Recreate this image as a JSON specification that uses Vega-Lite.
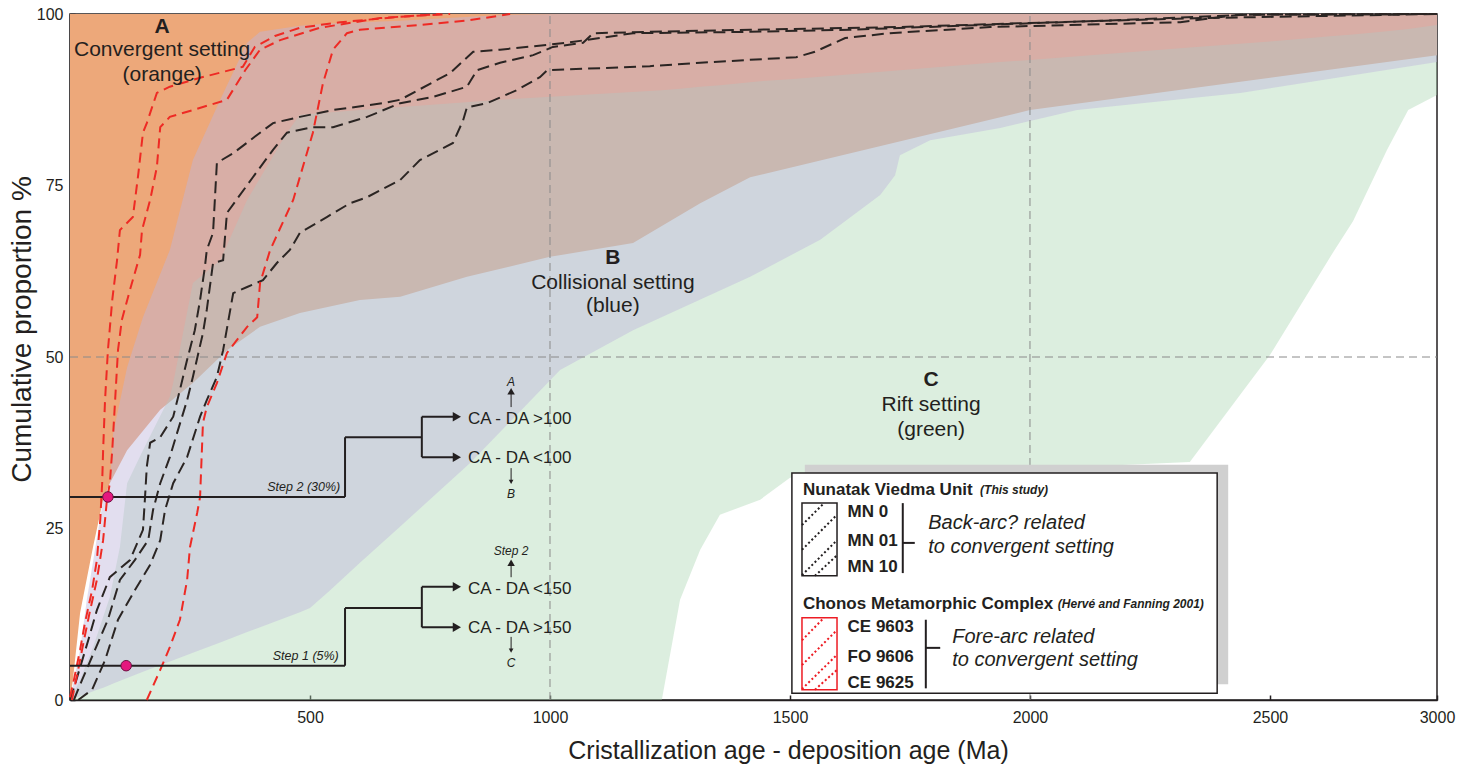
{
"$schema": "https://vega.github.io/schema/vega-lite/v6.json",
"width": 1367, "height": 686,
"autosize": {"type": "none"},
"padding": {"left": 70, "top": 14, "right": 40, "bottom": 71},
"background": "white",
"config": {"font": "Liberation Sans", "view": {"stroke": "#231f20", "strokeWidth": 1.5}},
"datasets": {
"orange": [{"x":0,"y":0},{"x":6,"y":2.9},{"x":21,"y":12.7},{"x":48,"y":22.3},{"x":69,"y":29.2},{"x":83,"y":31.6},{"x":119,"y":36.4},{"x":188,"y":42.3},{"x":256,"y":46.2},{"x":327,"y":51.0},{"x":396,"y":54.4},{"x":479,"y":56.4},{"x":604,"y":58.3},{"x":688,"y":58.8},{"x":827,"y":61.7},{"x":1000,"y":64.6},{"x":1173,"y":66.6},{"x":1313,"y":72.4},{"x":1417,"y":76.2},{"x":2000,"y":86.0},{"x":2848,"y":94.0}],
"blue": [{"x":0,"y":0,"y2":0},{"x":21,"y":0.6,"y2":7.3},{"x":35,"y":0.9,"y2":14.6},{"x":52,"y":1.4,"y2":21.9},{"x":69,"y":1.8,"y2":29.2},{"x":83,"y":2.2,"y2":31.6},{"x":90,"y":2.4,"y2":38.9},{"x":119,"y":3.2,"y2":48.5},{"x":152,"y":4.1,"y2":55.8},{"x":208,"y":5.6,"y2":65.6},{"x":256,"y":6.9,"y2":78.7},{"x":313,"y":8.4,"y2":87.5},{"x":369,"y":9.9,"y2":95.8},{"x":396,"y":10.6,"y2":97.4},{"x":479,"y":12.8,"y2":98.3},{"x":500,"y":13.4,"y2":98.4},{"x":542,"y":16.0,"y2":98.6},{"x":604,"y":20.0,"y2":98.8},{"x":688,"y":25.3,"y2":99.0},{"x":833,"y":34.5,"y2":99.6},{"x":923,"y":41.0,"y2":99.9},{"x":1021,"y":48.1,"y2":100},{"x":1173,"y":53.9,"y2":100},{"x":1417,"y":61.7,"y2":100},{"x":1563,"y":67.1,"y2":100},{"x":1688,"y":73.6,"y2":100},{"x":1719,"y":76.5,"y2":100},{"x":1729,"y":79.4,"y2":100},{"x":1792,"y":81.6,"y2":100},{"x":1938,"y":83.4,"y2":100},{"x":2098,"y":86.0,"y2":100},{"x":2438,"y":88.5,"y2":100},{"x":2848,"y":93.0,"y2":100}],
"green": [{"x":0,"y":0,"y2":0},{"x":21,"y":0,"y2":2.9},{"x":48,"y":0,"y2":7.7},{"x":83,"y":0,"y2":15.0},{"x":104,"y":0,"y2":22.3},{"x":119,"y":0,"y2":31.6},{"x":152,"y":0,"y2":36.4},{"x":208,"y":0,"y2":44.2},{"x":215,"y":0,"y2":46.2},{"x":256,"y":0,"y2":60.8},{"x":313,"y":0,"y2":64.1},{"x":369,"y":0,"y2":72.9},{"x":452,"y":0,"y2":82.7},{"x":479,"y":0,"y2":85.3},{"x":604,"y":0,"y2":86.0},{"x":896,"y":0,"y2":87.5},{"x":1233,"y":0,"y2":88.9},{"x":1271,"y":14.6,"y2":89.1},{"x":1313,"y":21.9,"y2":89.4},{"x":1354,"y":27.0,"y2":89.6},{"x":1438,"y":29.2,"y2":90.2},{"x":1500,"y":32.4,"y2":90.5},{"x":1729,"y":33.5,"y2":91.8},{"x":1938,"y":33.8,"y2":93.0},{"x":2000,"y":33.9,"y2":93.3},{"x":2146,"y":34.1,"y2":94.1},{"x":2333,"y":34.7,"y2":95.1},{"x":2500,"y":50.3,"y2":96.0},{"x":2631,"y":65.2,"y2":96.8},{"x":2673,"y":69.8,"y2":97.0},{"x":2744,"y":80.2,"y2":97.5},{"x":2788,"y":86.0,"y2":97.8},{"x":2848,"y":88.2,"y2":98.4}],
"grid": [{"x":1000,"y":0,"x2":1000,"y2":100},{"x":2000,"y":0,"x2":2000,"y2":100},{"x":0,"y":50,"x2":2848,"y2":50}],
"curves": [
{"u":"N","s":"MN 0","x":0,"y":0},{"u":"N","s":"MN 0","x":10,"y":2.2},{"u":"N","s":"MN 0","x":38,"y":8.7},{"u":"N","s":"MN 0","x":56,"y":13.1},{"u":"N","s":"MN 0","x":83,"y":17.9},{"u":"N","s":"MN 0","x":125,"y":20.4},{"u":"N","s":"MN 0","x":152,"y":24.8},{"u":"N","s":"MN 0","x":156,"y":29.2},{"u":"N","s":"MN 0","x":160,"y":34.0},{"u":"N","s":"MN 0","x":167,"y":37.5},{"u":"N","s":"MN 0","x":188,"y":38.3},{"u":"N","s":"MN 0","x":215,"y":41.3},{"u":"N","s":"MN 0","x":229,"y":45.2},{"u":"N","s":"MN 0","x":244,"y":49.6},{"u":"N","s":"MN 0","x":260,"y":53.9},{"u":"N","s":"MN 0","x":271,"y":58.3},{"u":"N","s":"MN 0","x":281,"y":63.1},{"u":"N","s":"MN 0","x":285,"y":65.6},{"u":"N","s":"MN 0","x":298,"y":68.1},{"u":"N","s":"MN 0","x":306,"y":78.3},{"u":"N","s":"MN 0","x":340,"y":79.7},{"u":"N","s":"MN 0","x":396,"y":82.7},{"u":"N","s":"MN 0","x":423,"y":84.1},{"u":"N","s":"MN 0","x":479,"y":85.0},{"u":"N","s":"MN 0","x":548,"y":86.0},{"u":"N","s":"MN 0","x":652,"y":87.0},{"u":"N","s":"MN 0","x":688,"y":87.5},{"u":"N","s":"MN 0","x":792,"y":91.4},{"u":"N","s":"MN 0","x":840,"y":94.5},{"u":"N","s":"MN 0","x":896,"y":94.8},{"u":"N","s":"MN 0","x":1035,"y":95.8},{"u":"N","s":"MN 0","x":1173,"y":97.2},{"u":"N","s":"MN 0","x":1417,"y":97.4},{"u":"N","s":"MN 0","x":1625,"y":97.7},{"u":"N","s":"MN 0","x":1938,"y":98.5},{"u":"N","s":"MN 0","x":2146,"y":99.0},{"u":"N","s":"MN 0","x":2458,"y":99.9},{"u":"N","s":"MN 0","x":2848,"y":100},
{"u":"N","s":"MN 01","x":8,"y":0},{"u":"N","s":"MN 01","x":25,"y":2.9},{"u":"N","s":"MN 01","x":52,"y":7.3},{"u":"N","s":"MN 01","x":79,"y":11.7},{"u":"N","s":"MN 01","x":104,"y":17.5},{"u":"N","s":"MN 01","x":135,"y":20.4},{"u":"N","s":"MN 01","x":163,"y":23.3},{"u":"N","s":"MN 01","x":173,"y":27.7},{"u":"N","s":"MN 01","x":188,"y":31.6},{"u":"N","s":"MN 01","x":208,"y":35.4},{"u":"N","s":"MN 01","x":223,"y":38.9},{"u":"N","s":"MN 01","x":244,"y":43.7},{"u":"N","s":"MN 01","x":256,"y":47.1},{"u":"N","s":"MN 01","x":277,"y":53.5},{"u":"N","s":"MN 01","x":285,"y":56.9},{"u":"N","s":"MN 01","x":298,"y":63.7},{"u":"N","s":"MN 01","x":319,"y":64.1},{"u":"N","s":"MN 01","x":327,"y":71.0},{"u":"N","s":"MN 01","x":381,"y":76.2},{"u":"N","s":"MN 01","x":423,"y":80.2},{"u":"N","s":"MN 01","x":452,"y":82.7},{"u":"N","s":"MN 01","x":506,"y":83.5},{"u":"N","s":"MN 01","x":548,"y":83.5},{"u":"N","s":"MN 01","x":619,"y":85.0},{"u":"N","s":"MN 01","x":688,"y":87.0},{"u":"N","s":"MN 01","x":756,"y":87.9},{"u":"N","s":"MN 01","x":827,"y":89.4},{"u":"N","s":"MN 01","x":848,"y":91.8},{"u":"N","s":"MN 01","x":896,"y":92.9},{"u":"N","s":"MN 01","x":965,"y":94.0},{"u":"N","s":"MN 01","x":1006,"y":95.2},{"u":"N","s":"MN 01","x":1069,"y":95.8},{"u":"N","s":"MN 01","x":1090,"y":97.2},{"u":"N","s":"MN 01","x":1208,"y":97.4},{"u":"N","s":"MN 01","x":1417,"y":97.7},{"u":"N","s":"MN 01","x":1729,"y":98.1},{"u":"N","s":"MN 01","x":2000,"y":98.7},{"u":"N","s":"MN 01","x":2354,"y":99.4},{"u":"N","s":"MN 01","x":2848,"y":100},
{"u":"N","s":"MN 10","x":17,"y":0},{"u":"N","s":"MN 10","x":46,"y":1.5},{"u":"N","s":"MN 10","x":73,"y":5.8},{"u":"N","s":"MN 10","x":100,"y":11.7},{"u":"N","s":"MN 10","x":135,"y":16.0},{"u":"N","s":"MN 10","x":167,"y":19.7},{"u":"N","s":"MN 10","x":188,"y":23.3},{"u":"N","s":"MN 10","x":198,"y":27.7},{"u":"N","s":"MN 10","x":215,"y":31.6},{"u":"N","s":"MN 10","x":244,"y":35.4},{"u":"N","s":"MN 10","x":271,"y":41.3},{"u":"N","s":"MN 10","x":285,"y":43.7},{"u":"N","s":"MN 10","x":306,"y":47.1},{"u":"N","s":"MN 10","x":319,"y":51.0},{"u":"N","s":"MN 10","x":340,"y":59.3},{"u":"N","s":"MN 10","x":369,"y":60.2},{"u":"N","s":"MN 10","x":402,"y":61.2},{"u":"N","s":"MN 10","x":431,"y":63.7},{"u":"N","s":"MN 10","x":458,"y":65.6},{"u":"N","s":"MN 10","x":479,"y":68.1},{"u":"N","s":"MN 10","x":535,"y":70.4},{"u":"N","s":"MN 10","x":583,"y":72.4},{"u":"N","s":"MN 10","x":619,"y":73.3},{"u":"N","s":"MN 10","x":688,"y":75.8},{"u":"N","s":"MN 10","x":729,"y":78.7},{"u":"N","s":"MN 10","x":798,"y":81.2},{"u":"N","s":"MN 10","x":819,"y":84.5},{"u":"N","s":"MN 10","x":827,"y":86.4},{"u":"N","s":"MN 10","x":869,"y":87.0},{"u":"N","s":"MN 10","x":931,"y":88.9},{"u":"N","s":"MN 10","x":979,"y":90.8},{"u":"N","s":"MN 10","x":994,"y":91.8},{"u":"N","s":"MN 10","x":1208,"y":92.4},{"u":"N","s":"MN 10","x":1313,"y":92.9},{"u":"N","s":"MN 10","x":1513,"y":93.7},{"u":"N","s":"MN 10","x":1552,"y":94.5},{"u":"N","s":"MN 10","x":1615,"y":96.5},{"u":"N","s":"MN 10","x":1708,"y":97.2},{"u":"N","s":"MN 10","x":1917,"y":98.1},{"u":"N","s":"MN 10","x":2313,"y":98.8},{"u":"N","s":"MN 10","x":2438,"y":99.9},{"u":"N","s":"MN 10","x":2848,"y":100},
{"u":"C","s":"CE 9603","x":0,"y":0.4},{"u":"C","s":"CE 9603","x":8,"y":2.9},{"u":"C","s":"CE 9603","x":21,"y":7.3},{"u":"C","s":"CE 9603","x":31,"y":11.2},{"u":"C","s":"CE 9603","x":46,"y":16.0},{"u":"C","s":"CE 9603","x":56,"y":20.4},{"u":"C","s":"CE 9603","x":63,"y":26.2},{"u":"C","s":"CE 9603","x":67,"y":31.6},{"u":"C","s":"CE 9603","x":69,"y":36.4},{"u":"C","s":"CE 9603","x":73,"y":43.7},{"u":"C","s":"CE 9603","x":79,"y":51.0},{"u":"C","s":"CE 9603","x":88,"y":58.3},{"u":"C","s":"CE 9603","x":98,"y":64.1},{"u":"C","s":"CE 9603","x":104,"y":68.5},{"u":"C","s":"CE 9603","x":131,"y":70.4},{"u":"C","s":"CE 9603","x":142,"y":76.5},{"u":"C","s":"CE 9603","x":152,"y":82.7},{"u":"C","s":"CE 9603","x":160,"y":84.1},{"u":"C","s":"CE 9603","x":181,"y":88.5},{"u":"C","s":"CE 9603","x":208,"y":89.4},{"u":"C","s":"CE 9603","x":271,"y":90.7},{"u":"C","s":"CE 9603","x":360,"y":92.3},{"u":"C","s":"CE 9603","x":385,"y":95.2},{"u":"C","s":"CE 9603","x":427,"y":96.8},{"u":"C","s":"CE 9603","x":479,"y":98.0},{"u":"C","s":"CE 9603","x":563,"y":98.8},{"u":"C","s":"CE 9603","x":688,"y":99.6},{"u":"C","s":"CE 9603","x":792,"y":100},
{"u":"C","s":"FO 9606","x":4,"y":0},{"u":"C","s":"FO 9606","x":17,"y":4.4},{"u":"C","s":"FO 9606","x":29,"y":8.7},{"u":"C","s":"FO 9606","x":42,"y":13.1},{"u":"C","s":"FO 9606","x":56,"y":17.5},{"u":"C","s":"FO 9606","x":69,"y":23.3},{"u":"C","s":"FO 9606","x":77,"y":29.2},{"u":"C","s":"FO 9606","x":83,"y":31.6},{"u":"C","s":"FO 9606","x":88,"y":36.4},{"u":"C","s":"FO 9606","x":94,"y":43.7},{"u":"C","s":"FO 9606","x":100,"y":51.0},{"u":"C","s":"FO 9606","x":108,"y":55.4},{"u":"C","s":"FO 9606","x":125,"y":59.8},{"u":"C","s":"FO 9606","x":146,"y":64.9},{"u":"C","s":"FO 9606","x":150,"y":68.5},{"u":"C","s":"FO 9606","x":167,"y":72.9},{"u":"C","s":"FO 9606","x":181,"y":77.7},{"u":"C","s":"FO 9606","x":188,"y":83.5},{"u":"C","s":"FO 9606","x":208,"y":85.0},{"u":"C","s":"FO 9606","x":256,"y":86.0},{"u":"C","s":"FO 9606","x":327,"y":87.5},{"u":"C","s":"FO 9606","x":365,"y":91.8},{"u":"C","s":"FO 9606","x":396,"y":94.8},{"u":"C","s":"FO 9606","x":438,"y":96.2},{"u":"C","s":"FO 9606","x":521,"y":98.0},{"u":"C","s":"FO 9606","x":646,"y":99.4},{"u":"C","s":"FO 9606","x":771,"y":100},
{"u":"C","s":"CE 9625","x":160,"y":0},{"u":"C","s":"CE 9625","x":188,"y":4.4},{"u":"C","s":"CE 9625","x":208,"y":7.7},{"u":"C","s":"CE 9625","x":229,"y":11.7},{"u":"C","s":"CE 9625","x":244,"y":17.5},{"u":"C","s":"CE 9625","x":250,"y":22.3},{"u":"C","s":"CE 9625","x":265,"y":27.3},{"u":"C","s":"CE 9625","x":271,"y":29.6},{"u":"C","s":"CE 9625","x":277,"y":40.4},{"u":"C","s":"CE 9625","x":285,"y":42.7},{"u":"C","s":"CE 9625","x":306,"y":46.2},{"u":"C","s":"CE 9625","x":327,"y":50.6},{"u":"C","s":"CE 9625","x":369,"y":54.4},{"u":"C","s":"CE 9625","x":390,"y":55.8},{"u":"C","s":"CE 9625","x":396,"y":60.8},{"u":"C","s":"CE 9625","x":417,"y":65.6},{"u":"C","s":"CE 9625","x":465,"y":72.9},{"u":"C","s":"CE 9625","x":506,"y":82.7},{"u":"C","s":"CE 9625","x":527,"y":89.9},{"u":"C","s":"CE 9625","x":548,"y":94.8},{"u":"C","s":"CE 9625","x":577,"y":97.2},{"u":"C","s":"CE 9625","x":604,"y":97.7},{"u":"C","s":"CE 9625","x":729,"y":98.4},{"u":"C","s":"CE 9625","x":833,"y":99.1},{"u":"C","s":"CE 9625","x":917,"y":100}
],
"flow": [{"x":0,"y":29.6,"x2":573,"y2":29.6},{"x":573,"y":29.6,"x2":573,"y2":38.3},{"x":573,"y":38.3,"x2":733,"y2":38.3},{"x":733,"y":35.4,"x2":733,"y2":41.3},{"x":733,"y":41.3,"x2":800,"y2":41.3},{"x":733,"y":35.4,"x2":800,"y2":35.4},{"x":0,"y":5,"x2":573,"y2":5},{"x":573,"y":5,"x2":573,"y2":13.4},{"x":573,"y":13.4,"x2":733,"y2":13.4},{"x":733,"y":10.6,"x2":733,"y2":16.5},{"x":733,"y":16.5,"x2":800,"y2":16.5},{"x":733,"y":10.6,"x2":800,"y2":10.6}],
"flowsmall": [{"x":919,"y":42.7,"x2":919,"y2":45.0},{"x":919,"y":31.8,"x2":919,"y2":33.8},{"x":919,"y":17.9,"x2":919,"y2":20.0},{"x":919,"y":7.2,"x2":919,"y2":9.2}],
"heads": [{"x":806,"y":41.3,"dir":"right"},{"x":806,"y":35.4,"dir":"right"},{"x":806,"y":16.5,"dir":"right"},{"x":806,"y":10.6,"dir":"right"},{"x":919,"y":45.0,"dir":"up"},{"x":919,"y":31.8,"dir":"down"},{"x":919,"y":20.0,"dir":"up"},{"x":919,"y":7.2,"dir":"down"}],
"dots": [{"x":79,"y":29.6,"step":"Step 2"},{"x":117,"y":5.0,"step":"Step 1"}],
"lgrects": [{"part":"shadow","x":1531,"y":2.3,"x2":2413,"y2":34.3},{"part":"box","x":1504,"y":1.0,"x2":2390,"y2":33.1}],
"hboxes": [{"grp":"black","x":1525,"y":18.1,"x2":1598,"y2":28.7},{"grp":"red","x":1525,"y":1.5,"x2":1598,"y2":12.0}],
"hlines": [{"grp":"black","x":1525,"y":25.5,"x2":1571,"y2":28.7},{"grp":"black","x":1525,"y":21.9,"x2":1598,"y2":27.0},{"grp":"black","x":1525,"y":18.2,"x2":1598,"y2":23.3},{"grp":"black","x":1552,"y":18.1,"x2":1598,"y2":21.1},{"grp":"red","x":1525,"y":8.7,"x2":1571,"y2":12.0},{"grp":"red","x":1525,"y":5.1,"x2":1598,"y2":10.2},{"grp":"red","x":1525,"y":1.6,"x2":1598,"y2":6.6},{"grp":"red","x":1552,"y":1.5,"x2":1598,"y2":4.4}],
"brackets": [{"x":1735,"y":18.5,"x2":1735,"y2":28.7},{"x":1735,"y":22.9,"x2":1760,"y2":22.9},{"x":1783,"y":1.7,"x2":1783,"y2":11.7},{"x":1783,"y":7.6,"x2":1813,"y2":7.6}],
"labels": [
{"k":"head","x":192,"y":98.1,"t":"A"},{"k":"head","x":1131,"y":64.4,"t":"B"},{"k":"head","x":1794,"y":46.6,"t":"C"},
{"k":"set","x":192,"y":94.8,"t":"Convergent setting"},{"k":"set","x":192,"y":91.1,"t":"(orange)"},{"k":"set","x":1131,"y":60.8,"t":"Collisional setting"},{"k":"set","x":1131,"y":57.4,"t":"(blue)"},{"k":"set","x":1794,"y":43.0,"t":"Rift setting"},{"k":"set","x":1794,"y":39.4,"t":"(green)"},
{"k":"rule","x":829,"y":41.0,"t":"CA - DA >100"},{"k":"rule","x":829,"y":35.3,"t":"CA - DA <100"},{"k":"rule","x":829,"y":16.2,"t":"CA - DA <150"},{"k":"rule","x":829,"y":10.5,"t":"CA - DA >150"},
{"k":"small","x":919,"y":46.3,"t":"A"},{"k":"small","x":919,"y":30.0,"t":"B"},{"k":"small","x":919,"y":21.7,"t":"Step 2"},{"k":"small","x":919,"y":5.4,"t":"C"},
{"k":"step","x":563,"y":31.0,"t":"Step 2 (30%)"},{"k":"step","x":560,"y":6.4,"t":"Step 1 (5%)"},
{"k":"lgtitle","x":1527,"y":30.6,"t":"Nunatak Viedma Unit"},{"k":"lgtitle","x":1527,"y":14.0,"t":"Chonos Metamorphic Complex"},
{"k":"lgitem","x":1620,"y":27.4,"t":"MN 0"},{"k":"lgitem","x":1620,"y":23.2,"t":"MN 01"},{"k":"lgitem","x":1620,"y":19.4,"t":"MN 10"},{"k":"lgitem","x":1620,"y":10.6,"t":"CE 9603"},{"k":"lgitem","x":1620,"y":6.3,"t":"FO 9606"},{"k":"lgitem","x":1620,"y":2.5,"t":"CE 9625"},
{"k":"lgcite","x":1896,"y":30.6,"t":"(This study)"},{"k":"lgcite","x":2058,"y":14.0,"t":"(Hervé and Fanning 2001)"},
{"k":"lgnote","x":1788,"y":25.8,"t":"Back-arc? related"},{"k":"lgnote","x":1788,"y":22.3,"t":"to convergent setting"},{"k":"lgnote","x":1838,"y":9.2,"t":"Fore-arc related"},{"k":"lgnote","x":1838,"y":5.8,"t":"to convergent setting"}
]
},
"encoding": {
"x": {"field":"x","type":"quantitative","scale":{"domain":[0,2848],"nice":false,"zero":false},"title":"Cristallization age - deposition age (Ma)",
 "axis":{"values":[500,1000,1500,2000,2500,2848],"format":"d","labelExpr":"datum.value > 2800 ? '3000' : datum.label","labelFlush":false,"grid":false,"tickSize":-5,"labelPadding":14,"labelFontSize":16,"labelColor":"#231f20","domainColor":"#231f20","domainWidth":1.5,"tickColor":"#231f20","tickWidth":1.5,"titleFontSize":25,"titleFontWeight":"normal","titleColor":"#231f20","titleX":718,"titleY":50,"titleAlign":"center","titleBaseline":"middle"}},
"y": {"field":"y","type":"quantitative","scale":{"domain":[0,100],"nice":false,"zero":false},"title":"Cumulative proportion %",
 "axis":{"values":[0,25,50,75,100],"format":"d","labelFlush":false,"grid":false,"tickSize":-5,"labelPadding":12,"labelFontSize":16,"labelColor":"#231f20","domainColor":"#231f20","domainWidth":1.5,"tickColor":"#231f20","tickWidth":1.5,"titleFontSize":28,"titleFontWeight":"normal","titleColor":"#231f20","titleX":-48,"titleY":315,"titleAngle":-90,"titleAlign":"center","titleBaseline":"middle"}}
},
"layer": [
{"data":{"name":"orange"},"mark":{"type":"area","color":"#eda87a"},"encoding":{"y2":{"datum":100}}},
{"data":{"name":"green"},"mark":{"type":"area","color":"#a8d4b0","opacity":0.4},"encoding":{"y2":{"field":"y2"}}},
{"data":{"name":"blue"},"mark":{"type":"area","color":"#bfb6db","opacity":0.45},"encoding":{"y2":{"field":"y2"}}},
{"data":{"name":"grid"},"mark":{"type":"rule","color":"#8a8a8a","strokeWidth":1,"strokeDash":[8,5]},"encoding":{"x2":{"field":"x2"},"y2":{"field":"y2"}}},
{"data":{"name":"curves"},"transform":[{"filter":"datum.u === 'N'"}],"mark":{"type":"line","color":"#2b2523","strokeWidth":2,"strokeDash":[12,6]},"encoding":{"detail":{"field":"s"}}},
{"data":{"name":"curves"},"transform":[{"filter":"datum.u === 'C'"}],"mark":{"type":"line","color":"#ee2a24","strokeWidth":2,"strokeDash":[10,6]},"encoding":{"detail":{"field":"s"}}},
{"data":{"name":"flow"},"mark":{"type":"rule","color":"#231f20","strokeWidth":2},"encoding":{"x2":{"field":"x2"},"y2":{"field":"y2"}}},
{"data":{"name":"flowsmall"},"mark":{"type":"rule","color":"#231f20","strokeWidth":1},"encoding":{"x2":{"field":"x2"},"y2":{"field":"y2"}}},
{"data":{"name":"heads"},"mark":{"type":"point","filled":true,"color":"#231f20","opacity":1},"encoding":{"shape":{"field":"dir","scale":{"domain":["right","up","down"],"range":["triangle-right","triangle-up","triangle-down"]},"legend":null},"size":{"field":"dir","type":"nominal","scale":{"domain":["right","up","down"],"range":[90,22,22]},"legend":null}}},
{"data":{"name":"dots"},"mark":{"type":"point","filled":true,"size":110,"color":"#e5177e","stroke":"#6b1040","strokeWidth":1,"opacity":1}},
{"data":{"name":"lgrects"},"transform":[{"filter":"datum.part === 'shadow'"}],"mark":{"type":"rect","color":"#d0d0d0"},"encoding":{"x2":{"field":"x2"},"y2":{"field":"y2"}}},
{"data":{"name":"lgrects"},"transform":[{"filter":"datum.part === 'box'"}],"mark":{"type":"rect","fill":"white","stroke":"#231f20","strokeWidth":1.5},"encoding":{"x2":{"field":"x2"},"y2":{"field":"y2"}}},
{"data":{"name":"hboxes"},"mark":{"type":"rect","fill":"white","strokeWidth":1.5},"encoding":{"x2":{"field":"x2"},"y2":{"field":"y2"},"stroke":{"field":"grp","scale":{"domain":["black","red"],"range":["#231f20","#ed1c24"]},"legend":null}}},
{"data":{"name":"hlines"},"mark":{"type":"rule","strokeWidth":2,"strokeDash":[2,2.5]},"encoding":{"x2":{"field":"x2"},"y2":{"field":"y2"},"color":{"field":"grp","scale":{"domain":["black","red"],"range":["#231f20","#ed1c24"]},"legend":null}}},
{"data":{"name":"brackets"},"mark":{"type":"rule","color":"#231f20","strokeWidth":2},"encoding":{"x2":{"field":"x2"},"y2":{"field":"y2"}}},
{"data":{"name":"labels"},"transform":[{"filter":"datum.k === 'head'"}],"mark":{"type":"text","fontSize":21,"fontWeight":"bold","align":"center","baseline":"middle","color":"#231f20"},"encoding":{"text":{"field":"t"}}},
{"data":{"name":"labels"},"transform":[{"filter":"datum.k === 'set'"}],"mark":{"type":"text","fontSize":21,"align":"center","baseline":"middle","color":"#231f20"},"encoding":{"text":{"field":"t"}}},
{"data":{"name":"labels"},"transform":[{"filter":"datum.k === 'rule'"}],"mark":{"type":"text","fontSize":17,"align":"left","baseline":"middle","color":"#231f20"},"encoding":{"text":{"field":"t"}}},
{"data":{"name":"labels"},"transform":[{"filter":"datum.k === 'small'"}],"mark":{"type":"text","fontSize":12,"fontStyle":"italic","align":"center","baseline":"middle","color":"#231f20"},"encoding":{"text":{"field":"t"}}},
{"data":{"name":"labels"},"transform":[{"filter":"datum.k === 'step'"}],"mark":{"type":"text","fontSize":12.5,"fontStyle":"italic","align":"right","baseline":"middle","color":"#231f20"},"encoding":{"text":{"field":"t"}}},
{"data":{"name":"labels"},"transform":[{"filter":"datum.k === 'lgtitle' || datum.k === 'lgitem'"}],"mark":{"type":"text","fontSize":17,"fontWeight":"bold","align":"left","baseline":"middle","color":"#231f20"},"encoding":{"text":{"field":"t"}}},
{"data":{"name":"labels"},"transform":[{"filter":"datum.k === 'lgcite'"}],"mark":{"type":"text","fontSize":12,"fontWeight":"bold","fontStyle":"italic","align":"left","baseline":"middle","color":"#231f20"},"encoding":{"text":{"field":"t"}}},
{"data":{"name":"labels"},"transform":[{"filter":"datum.k === 'lgnote'"}],"mark":{"type":"text","fontSize":20,"fontStyle":"italic","align":"left","baseline":"middle","color":"#231f20"},"encoding":{"text":{"field":"t"}}}
]
}
